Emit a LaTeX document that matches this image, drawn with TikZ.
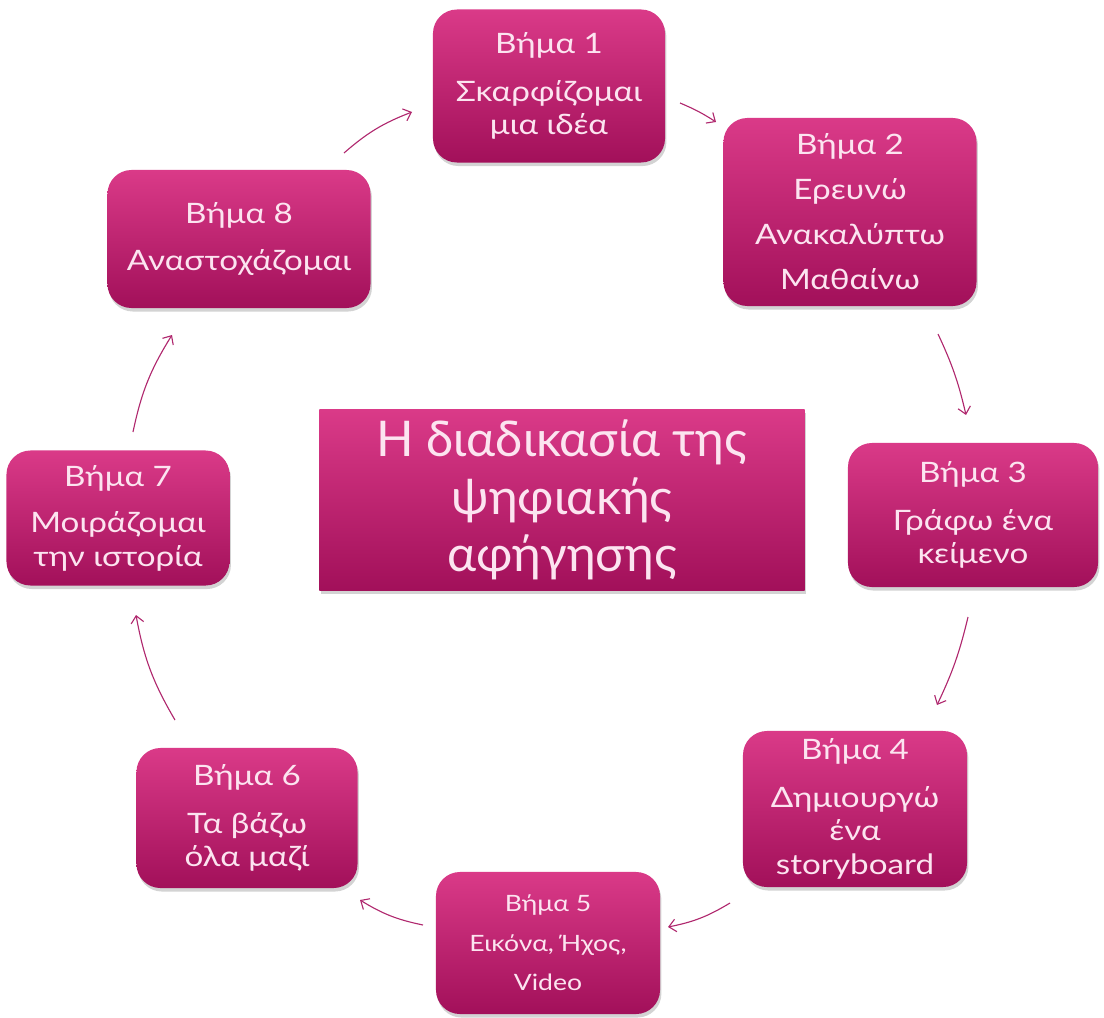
\documentclass[tikz,border=0pt]{standalone}
\usepackage{fontspec}
\setmainfont{Lato}[FakeStretch=1.18]
\newfontfamily\plainlato{Lato}
\usetikzlibrary{arrows.meta,shadows,shadings}
\definecolor{boxtop}{RGB}{218,58,136}
\definecolor{boxbot}{RGB}{162,16,90}
\definecolor{txt}{RGB}{252,228,240}
\definecolor{arr}{RGB}{176,40,110}
\tikzset{
  stepbox/.style={rounded corners=0.6cm, top color=boxtop, bottom color=boxbot,
    draw=none, inner sep=0pt, align=center, text=txt,
    font=\fontsize{20}{24}\selectfont,
    drop shadow={opacity=0.35, shadow xshift=1pt, shadow yshift=-2.5pt}},
  centerbox/.style={rectangle, top color=boxtop, bottom color=boxbot,
    draw=none, inner sep=0pt, align=center, text=txt,
    font=\plainlato\fontsize{35}{41}\selectfont,
    drop shadow={opacity=0.35, shadow xshift=1pt, shadow yshift=-2.5pt}},
  flow/.style={draw=arr, line width=0.8pt, -{Straight Barb[length=5pt,width=9pt]}, bend left=10}
}
\begin{document}
\begin{tikzpicture}[x=0.025cm,y=0.025cm]
\useasboundingbox (0,0) rectangle (1104,-1018);
\node[stepbox, minimum width=5.8cm, minimum height=3.825cm] (s1) at (549,-86)
  {Βήμα 1\\[10pt] Σκαρφίζομαι\\ μια ιδέα};
\node[stepbox, minimum width=6.325cm, minimum height=4.7cm] (s2) at (850,-212)
  {Βήμα 2\\[8pt] Ερευνώ\\[8pt] Ανακαλύπτω\\[8pt] Μαθαίνω};
\node[stepbox, minimum width=6.25cm, minimum height=3.6cm] (s3) at (973,-515)
  {Βήμα 3\\[10pt] Γράφω ένα\\ κείμενο};
\node[stepbox, minimum width=5.6cm, minimum height=3.9cm] (s4) at (855,-809)
  {Βήμα 4\\[10pt] Δημιουργώ\\ ένα\\ storyboard};
\node[stepbox, minimum width=5.6cm, minimum height=3.55cm, font=\fontsize{16}{20}\selectfont] (s5) at (548,-943)
  {Βήμα 5\\[8pt] Εικόνα, Ήχος,\\[8pt] Video};
\node[stepbox, minimum width=5.525cm, minimum height=3.5cm] (s6) at (247,-818)
  {Βήμα 6\\[10pt] Τα βάζω\\ όλα μαζί};
\node[stepbox, minimum width=5.575cm, minimum height=3.375cm] (s7) at (118,-518)
  {Βήμα 7\\[9pt] Μοιράζομαι\\ την ιστορία};
\node[stepbox, minimum width=6.575cm, minimum height=3.45cm] (s8) at (239,-239)
  {Βήμα 8\\[10pt] Αναστοχάζομαι};
\node[centerbox, minimum width=12.125cm, minimum height=4.5cm] (c) at (562,-500)
  {Η διαδικασία της\\ ψηφιακής\\ αφήγησης};
% arrow end points
\coordinate (a1s) at (680,-103); \coordinate (a1e) at (716,-122);
\coordinate (a2s) at (938,-334); \coordinate (a2e) at (966,-415);
\coordinate (a3s) at (968,-617); \coordinate (a3e) at (937,-705);
\coordinate (a4s) at (730,-903); \coordinate (a4e) at (668,-927);
\coordinate (a5s) at (423,-925); \coordinate (a5e) at (360,-900);
\coordinate (a6s) at (175,-720); \coordinate (a6e) at (136,-615);
\coordinate (a7s) at (133,-432); \coordinate (a7e) at (172,-335);
\coordinate (a8s) at (344,-153); \coordinate (a8e) at (412,-112);
\draw[flow, bend left=5] (a1s) to (a1e);
\draw[flow, bend left=6] (a2s) to (a2e);
\draw[flow, bend left=6] (a3s) to (a3e);
\draw[flow] (a4s) to (a4e);
\draw[flow] (a5s) to (a5e);
\draw[flow] (a6s) to (a6e);
\draw[flow] (a7s) to (a7e);
\draw[flow] (a8s) to (a8e);
\end{tikzpicture}
\end{document}
